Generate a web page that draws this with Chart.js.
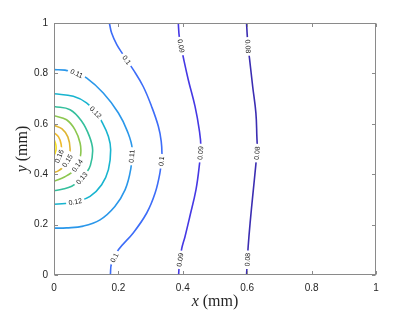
<!DOCTYPE html>
<html>
<head>
<meta charset="utf-8">
<script src="https://cdn.jsdelivr.net/npm/chart.js@4.4.1/dist/chart.umd.min.js"></script>
<style>
  html, body { margin: 0; background: #fff; }
</style>
</head>
<body>
<canvas id="chart" width="415" height="312"></canvas>
<script>
const LEVELS = [0.08, 0.09, 0.1, 0.11, 0.12, 0.13, 0.14, 0.15, 0.16, 0.17];

const LINE_008 = [[0.598,1],[0.6,0.954],[0.603,0.9],[0.607,0.861],[0.617,0.748],[0.627,0.643],[0.63,0.55],[0.631,0.5],[0.627,0.44],[0.617,0.312],[0.609,0.206],[0.603,0.113],[0.6,0.05],[0.598,0]];
const LINE_009 = [[0.386,1],[0.389,0.947],[0.396,0.9],[0.402,0.861],[0.417,0.775],[0.438,0.669],[0.451,0.577],[0.456,0.51],[0.451,0.431],[0.441,0.339],[0.422,0.233],[0.407,0.153],[0.397,0.107],[0.391,0.06],[0.388,0.021],[0.387,0]];
const LINE_010 = [[0.172,1],[0.179,0.96],[0.195,0.914],[0.215,0.874],[0.246,0.815],[0.277,0.748],[0.303,0.669],[0.324,0.59],[0.333,0.53],[0.335,0.47],[0.329,0.405],[0.314,0.325],[0.288,0.246],[0.246,0.167],[0.2,0.1],[0.179,0.048],[0.175,0]];
const LINE_011 = [[0,0.815],[0.034,0.813],[0.07,0.8],[0.101,0.782],[0.153,0.722],[0.2,0.643],[0.228,0.57],[0.243,0.5],[0.238,0.418],[0.221,0.339],[0.189,0.272],[0.143,0.219],[0.091,0.194],[0.039,0.187],[0,0.186]];
const LINE_012 = [[0,0.719],[0.06,0.709],[0.101,0.683],[0.13,0.645],[0.148,0.61],[0.169,0.55],[0.176,0.497],[0.169,0.418],[0.148,0.358],[0.112,0.312],[0.071,0.292],[0.035,0.284],[0,0.281]];
const LINE_013 = [[0,0.669],[0.05,0.656],[0.086,0.61],[0.11,0.55],[0.12,0.497],[0.113,0.435],[0.1,0.405],[0.08,0.375],[0.055,0.352],[0.025,0.34],[0,0.334]];
const LINE_014 = [[0,0.632],[0.039,0.616],[0.065,0.577],[0.081,0.524],[0.083,0.48],[0.075,0.44],[0.058,0.41],[0.034,0.39],[0,0.372]];
const LINE_015 = [[0,0.594],[0.025,0.58],[0.043,0.548],[0.05,0.5],[0.045,0.46],[0.03,0.43],[0.012,0.412],[0,0.407]];
const LINE_016 = [[0,0.565],[0.014,0.548],[0.022,0.52],[0.022,0.49],[0.014,0.465],[0,0.45]];
const LINE_017 = [[0,0.54],[0.006,0.515],[0.006,0.495],[0,0.47]];

// where the inline level labels sit: [level, x, y]
const CONTOUR_LABELS = [
    [0.1, 0.226, 0.854], [0.1, 0.336, 0.451], [0.1, 0.19, 0.067],
    [0.09, 0.388, 0.907], [0.09, 0.453, 0.484], [0.09, 0.388, 0.061],
    [0.08, 0.603, 0.907], [0.08, 0.627, 0.484], [0.08, 0.598, 0.061],
    [0.11, 0.07, 0.799], [0.11, 0.244, 0.471],
    [0.12, 0.127, 0.643], [0.12, 0.065, 0.299],
    [0.13, 0.089, 0.381],
    [0.14, 0.062, 0.444],
    [0.15, 0.04, 0.455],
    [0.16, 0.018, 0.47],
];

const X_TICKS = [0, 0.2, 0.4, 0.6, 0.8, 1];
const Y_TICKS = [0, 0.2, 0.4, 0.6, 0.8, 1];

const LINES = [LINE_008, LINE_009, LINE_010, LINE_011, LINE_012, LINE_013, LINE_014, LINE_015, LINE_016, LINE_017];

// parula-ish colour per level
const COLORS = ['#3b2db2', '#4538e4', '#3d6df8', '#2a97ea', '#18b4cf', '#34bf9c', '#8cc74f', '#deb533', '#eeba2b', '#f7e021'];

const AXIS_GRAY = '#8a8a8a';
const TEXT = '#262626';

const datasets = LEVELS.map((lvl, i) => ({
    label: String(lvl),
    data: LINES[i].map(([x, y]) => ({ x, y })),
    showLine: true,
    borderColor: COLORS[i],
    borderWidth: 1.6,
    pointRadius: 0,
    tension: 0.4,
    fill: false,
}));

// inline labels: white gap + rotated text following the line
const contourLabels = {
    id: 'contourLabels',
    afterDatasetsDraw(chart) {
        const { ctx, scales: { x, y } } = chart;
        ctx.save();
        ctx.font = '7px "Liberation Sans", Arial, sans-serif';
        ctx.textAlign = 'center';
        ctx.textBaseline = 'middle';
        CONTOUR_LABELS.forEach(([lvl, lx, ly]) => {
            const pts = LINES[LEVELS.indexOf(lvl)].map(([a, b]) => [x.getPixelForValue(a), y.getPixelForValue(b)]);
            const px = x.getPixelForValue(lx), py = y.getPixelForValue(ly);
            let best = null;
            for (let k = 0; k < pts.length - 1; k++) {
                const [x1, y1] = pts[k], [x2, y2] = pts[k + 1];
                const dx = x2 - x1, dy = y2 - y1;
                let t = ((px - x1) * dx + (py - y1) * dy) / (dx * dx + dy * dy);
                t = Math.max(0, Math.min(1, t));
                const qx = x1 + t * dx, qy = y1 + t * dy;
                const d = Math.hypot(px - qx, py - qy);
                if (!best || d < best.d) best = { d, qx, qy, ang: Math.atan2(dy, dx) };
            }
            let ang = best.ang;
            if (ang >= Math.PI / 2) ang -= Math.PI;
            if (ang < -Math.PI / 2) ang += Math.PI;
            const txt = String(lvl);
            const w = ctx.measureText(txt).width;
            ctx.save();
            ctx.translate(best.qx, best.qy);
            ctx.rotate(ang);
            ctx.fillStyle = '#fff';
            ctx.fillRect(-w / 2 - 2.5, -4, w + 5, 8);
            ctx.fillStyle = '#1a1a1a';
            ctx.fillText(txt, 0, 0.5);
            ctx.restore();
        });
        ctx.restore();
    },
};

// box, inward ticks on all sides, and the axis titles
const frame = {
    id: 'frame',
    afterDraw(chart) {
        const { ctx, chartArea: a, scales: { x, y } } = chart;
        const L = Math.round(a.left) + 0.5, R = Math.round(a.right) - 0.5;
        const T = Math.round(a.top) + 0.5, B = Math.round(a.bottom) - 0.5;
        ctx.save();
        ctx.strokeStyle = AXIS_GRAY;
        ctx.lineWidth = 1;
        ctx.strokeRect(L, T, R - L, B - T);
        ctx.beginPath();
        X_TICKS.forEach(v => {
            const p = Math.round(x.getPixelForValue(v)) + 0.5;
            ctx.moveTo(p, B); ctx.lineTo(p, B - 3.5);
            ctx.moveTo(p, T); ctx.lineTo(p, T + 3.5);
        });
        Y_TICKS.forEach(v => {
            const p = Math.round(y.getPixelForValue(v)) + 0.5;
            ctx.moveTo(L, p); ctx.lineTo(L + 3.5, p);
            ctx.moveTo(R, p); ctx.lineTo(R - 3.5, p);
        });
        ctx.stroke();

        const drawTitle = (v, cx, cy, rot) => {
            const it = 'italic 16px "Liberation Serif", "Times New Roman", serif';
            const up = '16px "Liberation Serif", "Times New Roman", serif';
            ctx.save();
            ctx.translate(cx, cy);
            ctx.rotate(rot);
            ctx.fillStyle = TEXT;
            ctx.textBaseline = 'middle';
            ctx.textAlign = 'left';
            ctx.font = it;
            const w1 = ctx.measureText(v).width;
            ctx.font = up;
            const rest = ' (mm)';
            const w2 = ctx.measureText(rest).width;
            const start = -(w1 + w2) / 2;
            ctx.font = it;
            ctx.fillText(v, start, 0);
            ctx.font = up;
            ctx.fillText(rest, start + w1, 0);
            ctx.restore();
        };
        drawTitle('x', (a.left + a.right) / 2, 302, 0);
        drawTitle('y', 23, (a.top + a.bottom) / 2, -Math.PI / 2);
        ctx.restore();
    },
};

const tickFont = { family: '"Liberation Sans", Arial, sans-serif', size: 10 };

new Chart(document.getElementById('chart'), {
    type: 'scatter',
    data: { datasets },
    options: {
        responsive: false,
        animation: false,
        layout: { padding: { top: 23, right: 39, left: 0, bottom: 0 } },
        plugins: { legend: { display: false }, tooltip: { enabled: false } },
        scales: {
            x: {
                type: 'linear', min: 0, max: 1,
                afterBuildTicks: s => { s.ticks = X_TICKS.map(value => ({ value })); },
                afterFit: s => { s.height = 37; },
                grid: { display: false, drawTicks: false },
                border: { display: false },
                ticks: { padding: 7, color: TEXT, maxRotation: 0, font: tickFont, callback: v => String(v) },
            },
            y: {
                type: 'linear', min: 0, max: 1,
                afterBuildTicks: s => { s.ticks = Y_TICKS.map(value => ({ value })); },
                afterFit: s => { s.width = 54; },
                grid: { display: false, drawTicks: false },
                border: { display: false },
                ticks: { padding: 6, color: TEXT, font: tickFont, callback: v => String(v) },
            },
        },
    },
    plugins: [contourLabels, frame],
});
</script>
</body>
</html>
